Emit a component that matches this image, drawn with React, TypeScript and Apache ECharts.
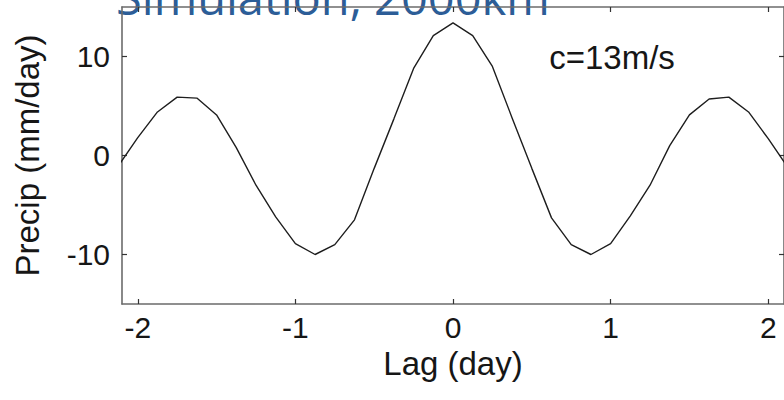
import React, { useEffect, useRef } from "react";
import * as echarts from "echarts";

// Lag in days (3-hourly steps)
const lags = [
  -2.125, -2.0, -1.875, -1.75, -1.625, -1.5, -1.375, -1.25, -1.125, -1.0, -0.875, -0.75,
  -0.625, -0.5, -0.375, -0.25, -0.125, 0, 0.125, 0.25, 0.375, 0.5, 0.625, 0.75, 0.875,
  1.0, 1.125, 1.25, 1.375, 1.5, 1.625, 1.75, 1.875, 2.0, 2.125,
];

// Lagged precipitation (mm/day)
const precip = [
  -1.1, 1.8, 4.4, 5.9, 5.8, 4.1, 0.8, -3.0, -6.2, -8.9, -10.0, -9.0,
  -6.5, -1.3, 3.7, 8.8, 12.1, 13.4, 12.1, 9.0, 3.8, -1.3, -6.3, -9.0, -10.0,
  -8.9, -6.1, -3.0, 1.0, 4.1, 5.7, 5.9, 4.4, 1.7, -1.2,
];

const xTicks = [-2, -1, 0, 1, 2];
const yTicks = [-10, 0, 10];

const titleText = "Simulation, 2000km";
const noteText = "c=13m/s";
const xName = "Lag (day)";
const yName = "Precip (mm/day)";

const FONT = "'Liberation Sans', Arial, Helvetica, sans-serif";
const AXIS_COLOR = "#6b6b6b";
const TEXT_COLOR = "#161616";

export default function App() {
  const ref = useRef<HTMLDivElement>(null);

  useEffect(() => {
    if (!ref.current) return;
    const chart = echarts.init(ref.current, undefined, { renderer: "svg" });

    const frameAxis = {
      axisLine: { show: true, onZero: false, lineStyle: { color: AXIS_COLOR, width: 1.6 } },
      splitLine: { show: false },
    };

    const tickStyle = (values: number[]) => ({
      show: true,
      inside: true,
      length: 5,
      customValues: values,
      lineStyle: { color: "#333", width: 1.2 },
    });

    chart.setOption({
      animation: false,
      backgroundColor: "#ffffff",
      grid: { left: 122, top: 7, width: 663, height: 297, containLabel: false },
      xAxis: [
        {
          type: "value",
          position: "bottom",
          min: -2.1,
          max: 2.1,
          ...frameAxis,
          axisTick: tickStyle(xTicks),
          axisLabel: {
            customValues: xTicks,
            margin: 8,
            fontSize: 30,
            fontFamily: FONT,
            color: TEXT_COLOR,
          },
          name: xName,
          nameLocation: "middle",
          nameGap: 41,
          nameTextStyle: { fontSize: 33, fontFamily: FONT, color: TEXT_COLOR },
        },
        {
          type: "value",
          position: "top",
          min: -2.1,
          max: 2.1,
          ...frameAxis,
          axisTick: tickStyle(xTicks),
          axisLabel: { show: false },
        },
      ],
      yAxis: [
        {
          type: "value",
          position: "left",
          min: -15,
          max: 15,
          ...frameAxis,
          axisTick: tickStyle(yTicks),
          axisLabel: {
            customValues: yTicks,
            margin: 12,
            fontSize: 30,
            fontFamily: FONT,
            color: TEXT_COLOR,
          },
          name: yName,
          nameLocation: "middle",
          nameGap: 78,
          nameRotate: 90,
          nameTextStyle: { fontSize: 33, fontFamily: FONT, color: TEXT_COLOR },
        },
        {
          type: "value",
          position: "right",
          min: -15,
          max: 15,
          ...frameAxis,
          axisTick: tickStyle(yTicks),
          axisLabel: { show: false },
        },
      ],
      series: [
        {
          type: "line",
          xAxisIndex: 0,
          yAxisIndex: 0,
          data: lags.map((l, i) => [l, precip[i]]),
          showSymbol: false,
          clip: true,
          lineStyle: { color: "#1e1e1e", width: 1.4 },
        },
      ],
      graphic: [
        {
          type: "text",
          x: 612,
          y: 57,
          style: {
            text: noteText,
            font: `33px ${FONT}`,
            fill: TEXT_COLOR,
            align: "center",
            verticalAlign: "middle",
            textAlign: "center",
            textVerticalAlign: "middle",
          },
        },
        {
          type: "text",
          x: 116,
          y: -3,
          style: {
            text: titleText,
            font: `47px 'Open Sans', sans-serif`,
            fill: "#2c5d97",
            align: "left",
            verticalAlign: "middle",
            textAlign: "left",
            textVerticalAlign: "middle",
          },
        },
      ],
    });

    return () => chart.dispose();
  }, []);

  return (
    <div
      ref={ref}
      style={{ position: "fixed", left: 0, top: 0, width: 784, height: 400, background: "#fff" }}
    />
  );
}
